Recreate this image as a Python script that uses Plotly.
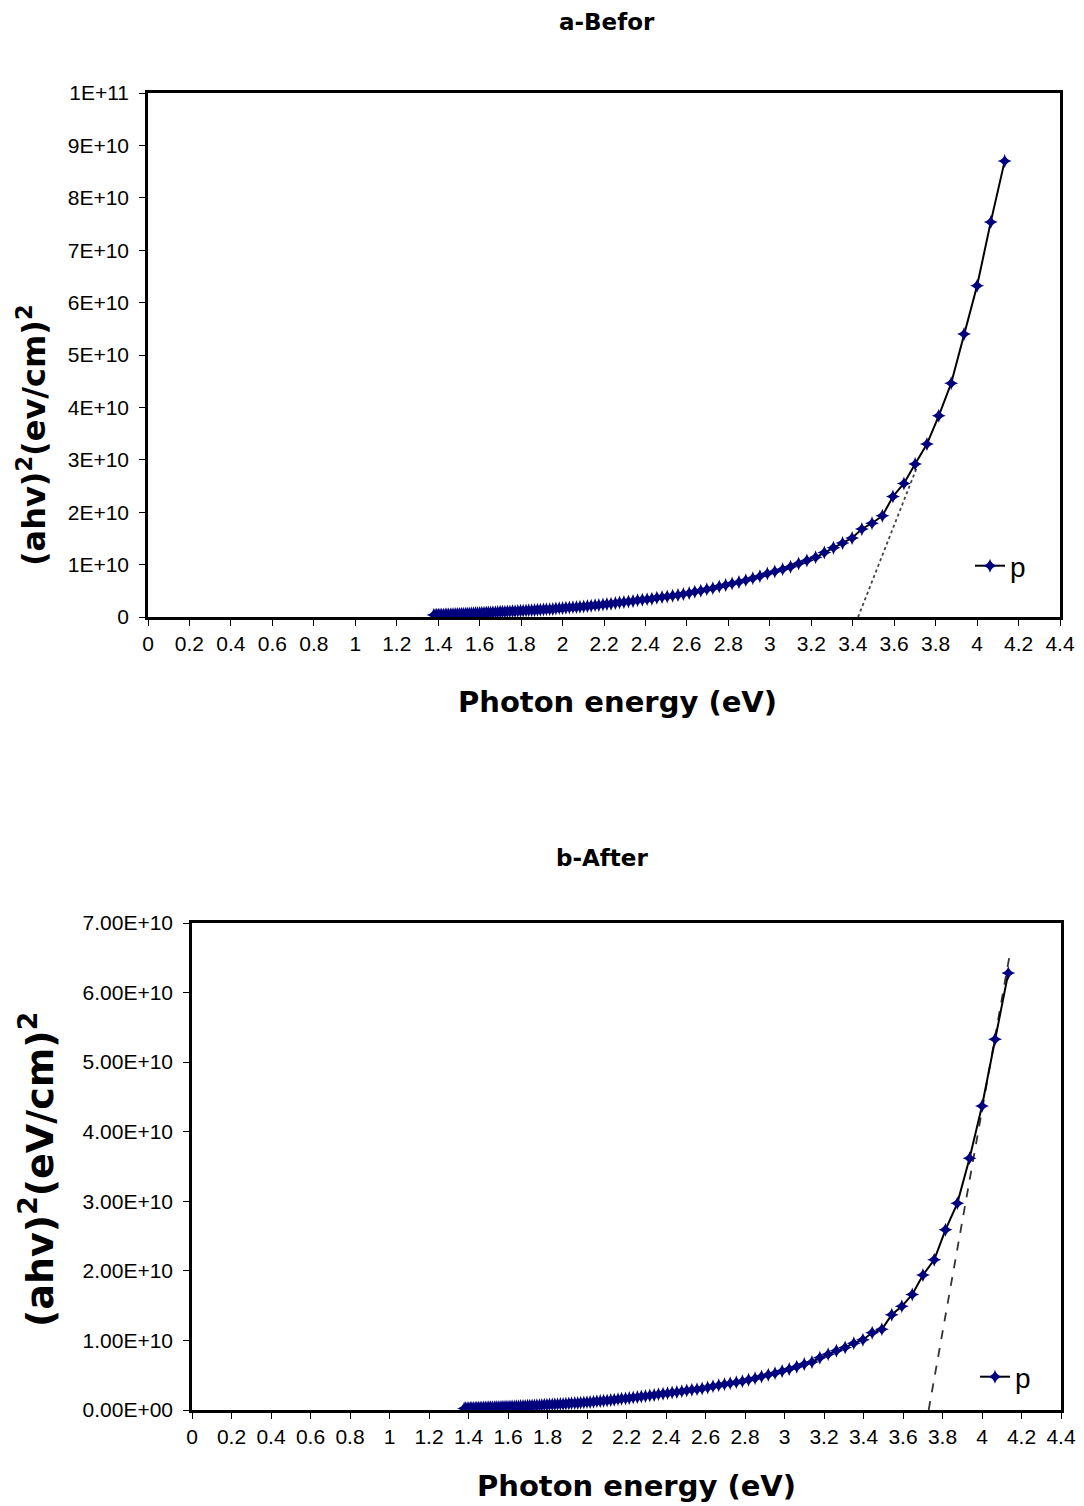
import plotly.graph_objects as go

# Photon energy (eV) of the measured points (same grid for both samples)
energy = [4.133, 4.066, 4.000, 3.937, 3.875, 3.815, 3.758, 3.701, 3.647, 3.594,
          3.543, 3.493, 3.444, 3.397, 3.351, 3.307, 3.263, 3.221, 3.179, 3.139,
          3.100, 3.062, 3.024, 2.988, 2.952, 2.918, 2.884, 2.851, 2.818, 2.787,
          2.756, 2.725, 2.696, 2.667, 2.638, 2.611, 2.583, 2.557, 2.531, 2.505,
          2.480, 2.455, 2.431, 2.408, 2.385, 2.362, 2.340, 2.318, 2.296, 2.275,
          2.255, 2.234, 2.214, 2.195, 2.175, 2.157, 2.138, 2.120, 2.102, 2.084,
          2.067, 2.050, 2.033, 2.016, 2.000, 1.984, 1.968, 1.953, 1.938, 1.922,
          1.908, 1.893, 1.879, 1.865, 1.851, 1.837, 1.824, 1.810, 1.797, 1.784,
          1.771, 1.759, 1.746, 1.734, 1.722, 1.710, 1.699, 1.687, 1.676, 1.664,
          1.653, 1.642, 1.632, 1.621, 1.610, 1.600, 1.590, 1.580, 1.570, 1.560,
          1.550, 1.540, 1.531, 1.521, 1.512, 1.503, 1.494, 1.485, 1.476, 1.467,
          1.459, 1.450, 1.442, 1.434, 1.425, 1.417, 1.409, 1.401, 1.393, 1.385,
          1.378]

# (ahv)^2 before, in units of 1E9
before_e9 = [87.0, 75.4, 63.2, 54.0, 44.6, 38.4, 33.0, 29.2, 25.5, 23.0,
             19.3, 17.9, 16.8, 15.1, 14.1, 13.2, 12.3, 11.4, 10.8, 10.2,
             9.6, 9.1, 8.7, 8.3, 7.8, 7.4, 7.0, 6.7, 6.4, 6.1,
             5.8, 5.5, 5.3, 5.0, 4.8, 4.6, 4.4, 4.2, 4.05, 3.9,
             3.8, 3.65, 3.5, 3.4, 3.3, 3.2, 3.05, 2.95, 2.85, 2.75,
             2.65, 2.55, 2.5, 2.4, 2.3, 2.25, 2.15, 2.1, 2.0, 1.95,
             1.9, 1.85, 1.8, 1.75, 1.7, 1.65, 1.6, 1.55, 1.5, 1.48,
             1.45, 1.4, 1.37, 1.33, 1.3, 1.27, 1.23, 1.2, 1.17, 1.15,
             1.12, 1.1, 1.07, 1.05, 1.02, 1.0, 0.98, 0.95, 0.93, 0.9,
             0.88, 0.86, 0.84, 0.82, 0.8, 0.78, 0.76, 0.74, 0.72, 0.7,
             0.68, 0.66, 0.64, 0.62, 0.6, 0.58, 0.57, 0.55, 0.53, 0.52,
             0.5, 0.49, 0.47, 0.46, 0.45, 0.44, 0.43, 0.42, 0.41, 0.4,
             0.39]

# (ahv)^2 after, in units of 1E9
after_e9 = [62.8, 53.3, 43.7, 36.2, 29.7, 25.9, 21.6, 19.4, 16.6, 14.9,
            13.7, 11.6, 11.1, 10.1, 9.6, 9.0, 8.5, 8.0, 7.5, 6.9,
            6.6, 6.2, 5.9, 5.6, 5.3, 5.05, 4.8, 4.55, 4.35, 4.15,
            4.0, 3.85, 3.7, 3.55, 3.4, 3.25, 3.1, 3.0, 2.9, 2.8,
            2.7, 2.6, 2.5, 2.42, 2.35, 2.25, 2.15, 2.07, 2.0, 1.93,
            1.86, 1.8, 1.73, 1.67, 1.6, 1.55, 1.48, 1.43, 1.38, 1.33,
            1.28, 1.24, 1.2, 1.16, 1.12, 1.08, 1.05, 1.02, 0.99, 0.96,
            0.93, 0.9, 0.88, 0.86, 0.84, 0.82, 0.8, 0.78, 0.76, 0.74,
            0.72, 0.7, 0.68, 0.66, 0.64, 0.62, 0.6, 0.59, 0.57, 0.56,
            0.54, 0.53, 0.52, 0.5, 0.49, 0.48, 0.47, 0.46, 0.45, 0.44,
            0.43, 0.42, 0.41, 0.4, 0.39, 0.38, 0.37, 0.36, 0.35, 0.34,
            0.33, 0.32, 0.31, 0.3, 0.29, 0.28, 0.27, 0.26, 0.25, 0.24,
            0.23]

# Tangent (extrapolation) lines: energy and (ahv)^2 in 1E9 units
tangent_before_x = [3.426, 3.714]
tangent_before_y = [0.0, 29.0]
tangent_after_x = [3.73, 4.14]
tangent_after_y = [0.0, 65.4]

x_ticks = [0, 0.2, 0.4, 0.6, 0.8, 1, 1.2, 1.4, 1.6, 1.8, 2, 2.2, 2.4, 2.6, 2.8,
           3, 3.2, 3.4, 3.6, 3.8, 4, 4.2, 4.4]
x_ticktext = ["0", "0.2", "0.4", "0.6", "0.8", "1", "1.2", "1.4", "1.6", "1.8", "2",
              "2.2", "2.4", "2.6", "2.8", "3", "3.2", "3.4", "3.6", "3.8", "4", "4.2", "4.4"]
y1_ticks = [0, 1e10, 2e10, 3e10, 4e10, 5e10, 6e10, 7e10, 8e10, 9e10, 1e11]
y1_ticktext = ["0", "1E+10", "2E+10", "3E+10", "4E+10", "5E+10", "6E+10",
               "7E+10", "8E+10", "9E+10", "1E+11"]
y2_ticks = [0, 1e10, 2e10, 3e10, 4e10, 5e10, 6e10, 7e10]
y2_ticktext = ["0.00E+00", "1.00E+10", "2.00E+10", "3.00E+10", "4.00E+10",
               "5.00E+10", "6.00E+10", "7.00E+10"]

before = [v * 1e9 for v in before_e9]
after = [v * 1e9 for v in after_e9]

W, H = 1084, 1506
NAVY = "#00007f"
TICKFONT = dict(family="Liberation Sans, Arial, sans-serif", size=21, color="black")
BOLD = "DejaVu Sans, Verdana, sans-serif"

fig = go.Figure()

fig.add_trace(go.Scatter(x=tangent_before_x, y=[v * 1e9 for v in tangent_before_y],
                         mode="lines", line=dict(color="#444", width=1.8, dash="dot"),
                         showlegend=False, xaxis="x", yaxis="y", hoverinfo="skip"))
fig.add_trace(go.Scatter(x=energy, y=before, mode="lines+markers", name="p",
                         line=dict(color="black", width=2),
                         marker=dict(symbol="star-diamond", size=10, color=NAVY),
                         xaxis="x", yaxis="y", legend="legend"))

fig.add_trace(go.Scatter(x=tangent_after_x, y=[v * 1e9 for v in tangent_after_y],
                         mode="lines", line=dict(color="#333", width=1.8, dash="dash"),
                         showlegend=False, xaxis="x2", yaxis="y2", hoverinfo="skip"))
fig.add_trace(go.Scatter(x=energy, y=after, mode="lines+markers", name="p",
                         line=dict(color="black", width=2),
                         marker=dict(symbol="star-diamond", size=10, color=NAVY),
                         xaxis="x2", yaxis="y2", legend="legend2"))

def px_x(p):
    return p / W

def px_y(p):
    return 1 - p / H

axis_common = dict(showgrid=False, zeroline=False, showline=True, linecolor="black",
                   linewidth=2.5, mirror=True, ticks="outside", ticklen=6,
                   tickcolor="black", tickwidth=1.2, tickfont=TICKFONT, tickmode="array")

fig.update_layout(
    width=W, height=H, autosize=False,
    margin=dict(l=0, r=0, t=0, b=0, autoexpand=False),
    paper_bgcolor="white", plot_bgcolor="white",
    xaxis=dict(domain=[px_x(148), px_x(1060)], range=[0, 4.4], anchor="y",
               tickvals=x_ticks, ticktext=x_ticktext, **axis_common),
    yaxis=dict(domain=[px_y(617), px_y(93)], range=[0, 1e11], anchor="x",
               tickvals=y1_ticks, ticktext=y1_ticktext, ticklabelstandoff=6, **axis_common),
    xaxis2=dict(domain=[px_x(192), px_x(1061)], range=[0, 4.4], anchor="y2",
                tickvals=x_ticks, ticktext=x_ticktext, **axis_common),
    yaxis2=dict(domain=[px_y(1410), px_y(923)], range=[0, 7e10], anchor="x2",
                tickvals=y2_ticks, ticktext=y2_ticktext, ticklabelstandoff=6, **axis_common),
    legend=dict(x=px_x(970), y=px_y(566), xanchor="left", yanchor="middle",
                bgcolor="rgba(0,0,0,0)", itemwidth=30,
                font=dict(family="Liberation Sans, Arial", size=28, color="black")),
    legend2=dict(x=px_x(975), y=px_y(1377), xanchor="left", yanchor="middle",
                 bgcolor="rgba(0,0,0,0)", itemwidth=30,
                 font=dict(family="Liberation Sans, Arial", size=28, color="black")),
    showlegend=True,
)

annotations = [
    dict(text="<b>a-Befor</b>", x=px_x(607), y=px_y(22), font=dict(family=BOLD, size=23)),
    dict(text="<b>b-After</b>", x=px_x(602), y=px_y(858), font=dict(family=BOLD, size=23)),
    dict(text="<b>Photon energy (eV)</b>", x=px_x(617), y=px_y(702), font=dict(family=BOLD, size=29)),
    dict(text="<b>Photon energy (eV)</b>", x=px_x(636), y=px_y(1486), font=dict(family=BOLD, size=29)),
    dict(text="<b>(ahv)<sup>2</sup>(ev/cm)<sup>2</sup></b>", x=px_x(32), y=px_y(436),
         textangle=-90, font=dict(family=BOLD, size=32)),
    dict(text="<b>(ahv)<sup>2</sup>(eV/cm)<sup>2</sup></b>", x=px_x(37), y=px_y(1170),
         textangle=-90, font=dict(family=BOLD, size=38)),
]
for a in annotations:
    a.update(xref="paper", yref="paper", showarrow=False, xanchor="center", yanchor="middle")
    a["font"]["color"] = "black"
fig.update_layout(annotations=annotations)

fig.write_html("out.html",
               post_script="document.body.style.margin='0';document.body.style.overflow='hidden';")
